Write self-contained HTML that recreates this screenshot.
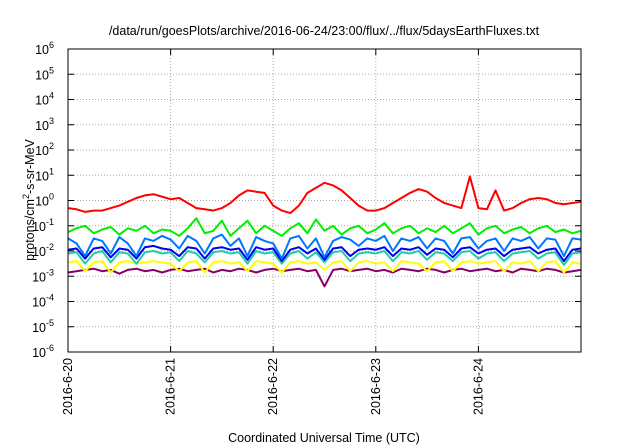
<!DOCTYPE html>
<html><head><meta charset="utf-8"><style>
body{margin:0;background:#fff;}
svg{display:block;font-family:"Liberation Sans",sans-serif;}
</style></head><body>
<svg id="chart" width="640" height="448" viewBox="0 0 640 448" xmlns="http://www.w3.org/2000/svg">
<text x="324" y="35" font-size="12.5" text-anchor="middle" fill="#000">/data/run/goesPlots/archive/2016-06-24/23:00/flux/../flux/5daysEarthFluxes.txt</text>
<g id="grid"></g>
<g id="series"></g>
<rect x="68" y="49" width="513" height="303" fill="none" stroke="#000" stroke-width="1"/>
<g id="axes"></g>
<text transform="translate(34,200) rotate(-90)" font-size="12.5" text-anchor="middle">protons/cm<tspan font-size="9" dy="-5">2</tspan><tspan dy="5">-s-sr-MeV</tspan></text>
<text x="324" y="442" font-size="12.5" text-anchor="middle">Coordinated Universal Time (UTC)</text>
</svg>
<script>
const dayLabels=["2016-6-20","2016-6-21","2016-6-22","2016-6-23","2016-6-24"];
const yExponents=[-6,-5,-4,-3,-2,-1,0,1,2,3,4,5,6];
const seriesColors=["#880066","#ffff00","#22ccaa","#0000ee","#0077ff","#00ee00","#ff0000"];
const purple=[-2.85,-2.8,-2.75,-2.7,-2.8,-2.75,-2.9,-2.75,-2.7,-2.8,-2.75,-2.85,-2.75,-2.7,-2.8,-2.75,-2.7,-2.85,-2.75,-2.8,-2.7,-2.75,-2.85,-2.75,-2.7,-2.8,-2.75,-2.7,-2.8,-2.75,-3.4,-2.75,-2.7,-2.8,-2.75,-2.7,-2.8,-2.75,-2.85,-2.7,-2.75,-2.8,-2.7,-2.75,-2.85,-2.75,-2.7,-2.8,-2.75,-2.7,-2.8,-2.75,-2.85,-2.7,-2.75,-2.8,-2.7,-2.75,-2.85,-2.8,-2.75];
const yellow=[-2.45,-2.4,-2.8,-2.45,-2.4,-2.85,-2.45,-2.4,-2.5,-2.45,-2.4,-2.45,-2.5,-2.8,-2.45,-2.4,-2.85,-2.45,-2.4,-2.5,-2.45,-2.8,-2.4,-2.45,-2.5,-2.85,-2.45,-2.4,-2.5,-2.45,-2.75,-2.45,-2.4,-2.8,-2.45,-2.4,-2.5,-2.45,-2.8,-2.4,-2.45,-2.5,-2.8,-2.45,-2.4,-2.8,-2.45,-2.4,-2.5,-2.45,-2.4,-2.8,-2.45,-2.5,-2.4,-2.8,-2.45,-2.4,-2.85,-2.45,-2.5];
const teal=[-2.1,-2.05,-2.5,-2.1,-2.0,-2.45,-2.05,-2.1,-2.5,-2.05,-2.0,-2.1,-2.05,-2.4,-2.0,-2.1,-2.45,-2.05,-2.0,-2.1,-2.05,-2.5,-2.0,-2.1,-2.05,-2.5,-2.1,-2.0,-2.3,-2.05,-2.45,-2.05,-2.0,-2.4,-2.1,-2.05,-2.1,-2.0,-2.4,-2.05,-2.1,-2.0,-2.35,-2.05,-2.1,-2.4,-2.05,-2.0,-2.3,-2.1,-2.05,-2.4,-2.1,-2.05,-2.0,-2.3,-2.1,-2.05,-2.55,-2.1,-2.05];
const blue=[-1.95,-1.9,-2.3,-1.9,-1.85,-2.25,-1.9,-1.95,-2.3,-1.85,-1.8,-1.9,-1.95,-2.2,-1.85,-1.9,-2.3,-1.9,-1.85,-1.95,-1.9,-2.35,-1.85,-1.95,-1.9,-2.4,-1.95,-1.85,-2.1,-1.9,-2.35,-1.9,-1.85,-2.2,-1.95,-1.9,-1.95,-1.85,-2.2,-1.9,-1.95,-1.85,-2.15,-1.9,-1.95,-2.25,-1.9,-1.85,-2.1,-1.95,-1.9,-2.2,-1.95,-1.9,-1.85,-2.1,-1.95,-1.9,-2.4,-1.95,-1.9];
const lightBlue=[-1.5,-1.7,-2.2,-1.5,-1.6,-2.1,-1.45,-1.7,-2.2,-1.5,-1.6,-1.4,-1.55,-1.9,-1.4,-1.6,-2.1,-1.5,-1.35,-1.8,-1.5,-2.2,-1.45,-1.6,-1.7,-2.3,-1.5,-1.4,-1.9,-1.5,-2.25,-1.6,-1.45,-1.55,-1.8,-1.5,-1.6,-1.4,-2.0,-1.5,-1.6,-1.45,-1.9,-1.5,-1.6,-2.1,-1.5,-1.45,-1.9,-1.6,-1.5,-2.0,-1.5,-1.6,-1.45,-1.9,-1.5,-1.55,-2.2,-1.5,-1.55];
const green=[-1.25,-1.1,-1.0,-1.3,-1.15,-1.05,-1.35,-1.1,-1.2,-1.0,-1.3,-1.15,-1.2,-1.4,-1.1,-0.7,-1.3,-1.2,-0.8,-1.4,-1.1,-0.8,-1.3,-1.0,-1.2,-1.4,-1.1,-0.9,-1.3,-0.75,-1.2,-1.0,-1.35,-1.1,-1.0,-1.3,-1.15,-0.9,-1.3,-1.1,-1.0,-1.3,-1.1,-1.25,-1.0,-1.3,-1.1,-0.9,-1.35,-1.1,-1.0,-1.3,-1.15,-1.05,-1.3,-1.1,-1.0,-1.25,-1.15,-1.3,-1.2];
const red=[-0.3,-0.35,-0.45,-0.4,-0.4,-0.3,-0.2,-0.05,0.1,0.2,0.25,0.15,0.05,0.1,-0.1,-0.3,-0.35,-0.4,-0.3,-0.1,0.2,0.4,0.35,0.3,-0.2,-0.4,-0.5,-0.2,0.3,0.5,0.7,0.6,0.4,0.1,-0.2,-0.4,-0.4,-0.3,-0.1,0.1,0.3,0.45,0.35,0.1,-0.1,-0.2,-0.3,0.95,-0.3,-0.35,0.4,-0.4,-0.3,-0.1,0.05,0.1,0.05,-0.1,-0.15,-0.1,-0.05];
const allSeries=[purple,yellow,teal,blue,lightBlue,green,red];

const L=68,R=581,T=49,B=352,NS="http://www.w3.org/2000/svg";
const xDay=d=>L+(d/5)*(R-L);
const yLog=e=>B-(e+6)/12*(B-T);
function mk(tag,attrs,parent){const el=document.createElementNS(NS,tag);for(const k in attrs)el.setAttribute(k,attrs[k]);parent.appendChild(el);return el;}
const grid=document.getElementById('grid'),axes=document.getElementById('axes'),ser=document.getElementById('series');
yExponents.forEach(e=>{
  const y=yLog(e);
  if(e>-6&&e<6){const g=mk('line',{x1:L,x2:R,y1:y,y2:y,stroke:'#aaa','stroke-dasharray':'1,2','stroke-width':1},grid);
  
  }
  const t1=mk('line',{x1:L,x2:L+6,y1:y,y2:y,stroke:'#000'},axes);
  
  
  const t2=mk('line',{x1:R-6,x2:R,y1:y,y2:y,stroke:'#000'},axes);
  
  
  const tx=mk('text',{x:54,y:y+5,'font-size':12.5,'text-anchor':'end'},axes);
  
  
  tx.appendChild(document.createTextNode('10'));
  const sp=mk('tspan',{'font-size':9,dy:-6},tx);sp.textContent=String(e);
});
dayLabels.forEach((lab,i)=>{
  const x=xDay(i);
  if(i>0){const g=mk('line',{x1:x,x2:x,y1:T,y2:B,stroke:'#aaa','stroke-dasharray':'1,2','stroke-width':1},grid);
  
  }
  const t1=mk('line',{x1:x,x2:x,y1:B-6,y2:B,stroke:'#000'},axes);
  
  
  const t2=mk('line',{x1:x,x2:x,y1:T,y2:T+6,stroke:'#000'},axes);
  
  
  const tx=mk('text',{transform:`translate(${x+4},358) rotate(-90)`,'font-size':12.5,'text-anchor':'end'},axes);
  
  
  tx.textContent=lab;
});
allSeries.forEach((arr,si)=>{
  const n=arr.length;
  const pts=arr.map((v,i)=>xDay(i/(n-1)*5).toFixed(1)+','+yLog(v).toFixed(1)).join(' ');
  const p=mk('polyline',{points:pts,fill:'none',stroke:seriesColors[si],'stroke-width':2,'stroke-linejoin':'round'},ser);
  
  
});
</script>
</body></html>
